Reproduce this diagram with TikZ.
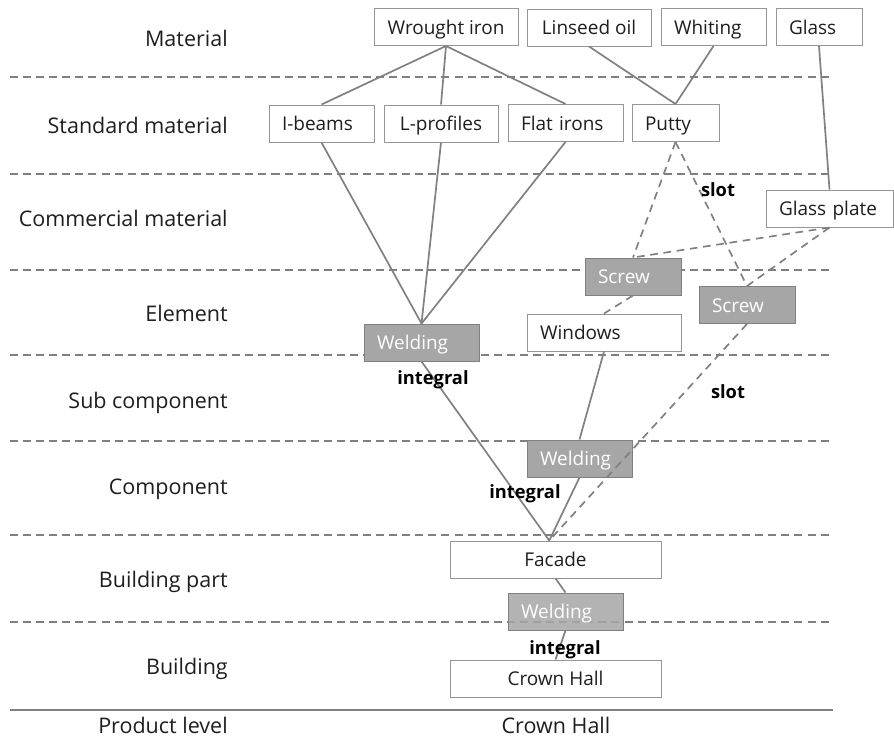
\documentclass[tikz,border=0pt]{standalone}
\usepackage{fontspec}
\setmainfont{Open Sans}

\definecolor{linegray}{RGB}{128,128,128}
\definecolor{rimgray}{RGB}{150,150,150}
\definecolor{jointgray}{RGB}{166,166,166}
\definecolor{inkgray}{RGB}{30,30,30}

\begin{document}
\begin{tikzpicture}[scale=0.25,
  every node/.style={text=inkgray},
  box/.style={draw=rimgray, fill=white, line width=0.7pt, minimum height=0.925cm,
    inner xsep=0.325cm, inner ysep=0pt, align=left, text height=1em, text depth=0em,
    font=\fontsize{13.5}{15}\selectfont},
  joint/.style={box, draw=linegray, fill=jointgray, text=white},
  link/.style={draw=linegray, line width=1.2pt},
  slotlink/.style={link, dash pattern=on 5.5pt off 4pt},
  level/.style={draw=linegray, line width=0.9pt, dash pattern=on 5.7pt off 3.6pt},
  levelname/.style={font=\fontsize{15.3}{17}\selectfont, inner sep=0pt},
  tag/.style={font=\fontsize{13}{15}\selectfont\bfseries, text=black, inner sep=0pt}]
\useasboundingbox (0,0) rectangle (89.4,-74);

% level separators
\foreach \y in {7.7,17.4,27.0,35.5,44.1,53.5,62.2}
  \draw [level] (1,-\y) -- (83.3,-\y);
\draw [linegray, line width=1pt] (1,-71) -- (83.3,-71);

% level names
\foreach \txt/\y [count=\i] in {Material/3.8, Standard material/12.5,
    Commercial material/21.8, Element/31.3, Sub component/40.3,
    Component/48.9, Building part/58.2, Building/66.9}
  \node [levelname, anchor=east] (lvl\i) at (22.8,-\y) {\txt};
\node [levelname, anchor=base east] (lvl9) at (22.8,-73.3) {Product level};
\node [levelname, anchor=base] (product) at (55.6,-73.3) {Crown Hall};

% materials
\node [box, minimum width=3.6cm, align=center] (wrought) at (44.6,-2.7) {Wrought iron};
\node [box, minimum width=3.1cm, align=center] (linseed) at (58.9,-2.75) {Linseed oil};
\node [box, text width=1.975cm] (whiting) at (71.35,-2.7) {Whiting};
\node [box, text width=1.5cm] (glass) at (81.9,-2.7) {Glass};
\node [box, text width=1.975cm] (ibeam) at (32.15,-12.35) {I-beams};
\node [box, minimum width=2.85cm, align=center] (lprof) at (44.1,-12.35) {L-profiles};
\node [box, text width=2.225cm] (flat) at (56.55,-12.3) {Flat irons};
\node [box, text width=1.525cm] (putty) at (67.55,-12.3) {Putty};
\node [box, text width=2.525cm] (plate) at (82.95,-20.85) {Glass plate};

% elements and joints
\node [joint, text width=1.75cm] (screwA) at (63.3,-27.65) {Screw};
\node [joint, text width=1.75cm] (screwB) at (74.7,-30.5) {Screw};
\node [joint, text width=2.225cm] (weldA) at (42.15,-34.25) {Welding};
\node [box, text width=3.2cm] (windows) at (60.4,-33.25) {Windows};
\node [joint, text width=1.975cm] (weldB) at (57.95,-45.85) {Welding};
\node [box, minimum width=5.275cm, align=center] (facade) at (55.55,-55.95) {Facade};
\node [joint, text width=2.225cm, fill opacity=0.85, text opacity=1] (weldC) at (56.55,-61.15) {Welding};
\node [box, minimum width=5.275cm, align=center] (hall) at (55.55,-67.85) {Crown Hall};
\coordinate (meet) at ([xshift=-0.625cm]facade.north);

% integral joints
\draw [link] (wrought.south) -- (ibeam.north);
\draw [link] (wrought.south) -- (lprof.north);
\draw [link] (wrought.south) -- (flat.north);
\draw [link] (linseed.south) -- (putty.north);
\draw [link] (whiting.south) -- (putty.north);
\draw [link] (glass.south) -- (plate.north);
\draw [link] (ibeam.south) -- (weldA.north);
\draw [link] (lprof.south) -- (weldA.north);
\draw [link] (flat.south) -- (weldA.north);
\draw [link] (weldA.south) -- (meet);
\draw [link] (windows.south) -- (weldB.north);
\draw [link] (weldB.south) -- (meet);
\draw [link] (facade.south) -- (weldC.north);
\draw [link] (weldC.south) -- (hall.north);

% slot joints
\draw [slotlink] (putty.south) -- (screwA.north);
\draw [slotlink] (putty.south) -- (screwB.north);
\draw [slotlink] (plate.south) -- (screwA.north);
\draw [slotlink] (plate.south) -- (screwB.north);
\draw [slotlink] (screwA.south) -- (windows.north);
\draw [slotlink] (screwB.south) -- (meet);

\node [tag] (slotA) at (71.8,-19.0) {slot};
\node [tag] (slotB) at (72.8,-39.2) {slot};
\node [tag] (intA) at (43.3,-38.0) {integral};
\node [tag] (intB) at (52.5,-49.4) {integral};
\node [tag] (intC) at (56.5,-65.0) {integral};
\end{tikzpicture}
\end{document}
